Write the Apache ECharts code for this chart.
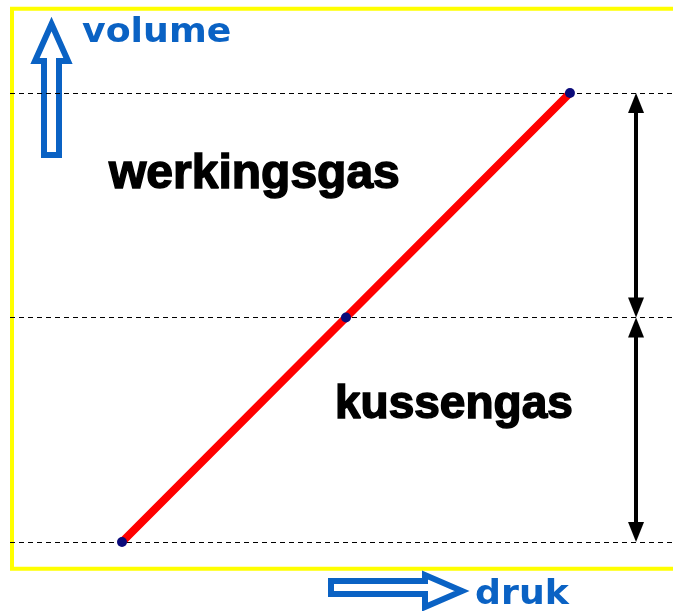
<!DOCTYPE html>
<html>
<head>
<meta charset="utf-8">
<script src="https://cdn.jsdelivr.net/npm/echarts@6/dist/echarts.min.js"></script>
<style>
	html, body { margin: 0; padding: 0; background: #fff; }
	#chart { width: 673px; height: 611px; }
</style>
</head>
<body>
<div id="chart"></div>
<script>
	// druk (x) en volume (y) van de drie punten
	var druk = [1, 3, 5];
	var volume = [0, 1, 2];
	// niveaus van de gestippelde lijnen
	var niveaus = [0, 1, 2];
	// plaats van de dubbele pijlen op de drukas
	var pijlDruk = 5.59;
	var lagen = ['kussengas', 'werkingsgas'];

	var blauw = '#0a62c4';
	var chart = echarts.init(document.getElementById('chart'), null, { renderer: 'canvas' });

	var punten = druk.map(function (d, i) { return [d, volume[i]]; });
	// pijlpunten: omhoog wijzend aan de bovenkant van elke laag, omlaag aan de onderkant
	var puntenOmhoog = niveaus.slice(1).map(function (n) { return [pijlDruk, n]; });
	var puntenOmlaag = niveaus.slice(0, -1).map(function (n) { return [pijlDruk, n]; });

	var option = {
		backgroundColor: '#fff',
		animation: false,
		grid: { left: 10, right: 0, top: 93, bottom: 69 },
		xAxis: {
			type: 'value', min: 0, max: 5.92,
			axisLine: { show: false }, axisTick: { show: false },
			axisLabel: { show: false }, splitLine: { show: false }
		},
		yAxis: {
			type: 'value', min: niveaus[0], max: niveaus[niveaus.length - 1], interval: 1,
			axisLine: { show: false }, axisTick: { show: false }, axisLabel: { show: false },
			splitLine: {
				show: true,
				lineStyle: { color: '#000', width: 1, type: [5, 4] }
			}
		},
		series: [{
			type: 'line',
			data: punten,
			z: 5,
			showAllSymbol: true,
			symbol: 'circle',
			symbolSize: 10,
			itemStyle: { color: '#0b0b7a' },
			lineStyle: { color: '#ff0000', width: 8 },
			markLine: {
				silent: true,
				symbol: ['none', 'none'],
				label: { show: false },
				lineStyle: { color: '#000', width: 4, type: 'solid', opacity: 1 },
				data: [
					[{ coord: [pijlDruk, niveaus[0] + 0.03] }, { coord: [pijlDruk, niveaus[1] - 0.03] }],
					[{ coord: [pijlDruk, niveaus[1] + 0.03] }, { coord: [pijlDruk, niveaus[2] - 0.03] }]
				]
			}
		}, {
			type: 'scatter',
			data: puntenOmhoog,
			z: 6, silent: true,
			symbol: 'triangle',
			symbolSize: [16, 20],
			symbolOffset: [0, 10],
			itemStyle: { color: '#000', opacity: 1 }
		}, {
			type: 'scatter',
			data: puntenOmlaag,
			z: 6, silent: true,
			symbol: 'triangle',
			symbolRotate: 180,
			symbolSize: [16, 20],
			symbolOffset: [0, -10],
			itemStyle: { color: '#000', opacity: 1 }
		}],
		graphic: [
			{
				type: 'rect', z: -1, silent: true,
				shape: { x: 12, y: 8.7, width: 700, height: 560 },
				style: { fill: 'none', stroke: '#ffff00', lineWidth: 4 }
			},
			// pijl omhoog (volume)
			{
				type: 'polygon', silent: true,
				shape: { points: [[51.5, 24], [68, 61], [59, 61], [59, 155], [44, 155], [44, 61], [35, 61]] },
				style: { fill: '#fff', stroke: blauw, lineWidth: 6, lineJoin: 'miter' }
			},
			// pijl naar rechts (druk)
			{
				type: 'polygon', silent: true,
				shape: { points: [[331, 581], [425, 581], [425, 575], [462, 591], [425, 607], [425, 594], [331, 594]] },
				style: { fill: '#fff', stroke: blauw, lineWidth: 6, lineJoin: 'miter' }
			},
			{
				type: 'text', silent: true, x: 82, y: 33, scaleX: 1.1,
				style: { text: 'volume', fill: blauw, font: 'bold 33px "DejaVu Sans"', verticalAlign: 'middle' }
			},
			{
				type: 'text', silent: true, x: 475, y: 595, scaleX: 1.1,
				style: { text: 'druk', fill: blauw, font: 'bold 33px "DejaVu Sans"', verticalAlign: 'middle' }
			},
			{
				type: 'text', silent: true, x: 109, y: 175,
				style: { text: lagen[1], fill: '#000', font: 'bold 48px "Liberation Sans"', verticalAlign: 'middle', stroke: '#000', lineWidth: 1.5 }
			},
			{
				type: 'text', silent: true, x: 335, y: 405,
				style: { text: lagen[0], fill: '#000', font: 'bold 46px "Liberation Sans"', verticalAlign: 'middle', stroke: '#000', lineWidth: 1.5 }
			}
		]
	};

	chart.setOption(option);
</script>
</body>
</html>
